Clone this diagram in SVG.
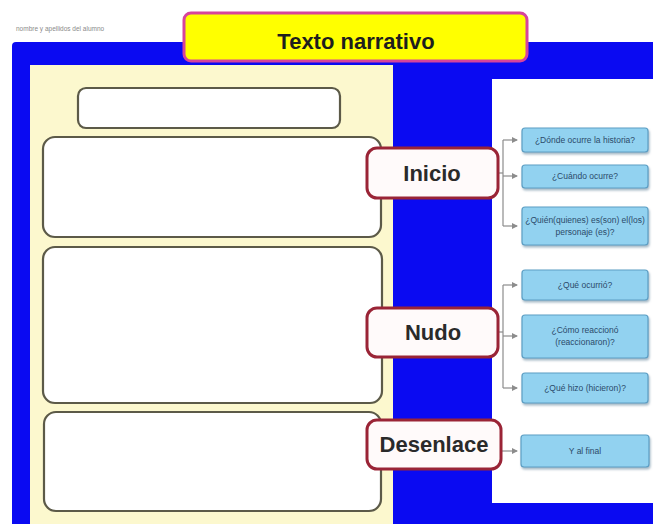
<svg xmlns="http://www.w3.org/2000/svg" width="653" height="524" viewBox="0 0 653 524">
<defs>
<style>
.lbox{fill:#ffffff;stroke:#5c5a48;stroke-width:2.2}
.sect rect{fill:#fffafa;stroke:#9a2436;stroke-width:3}
.sect text{font-family:"Liberation Sans",Arial,sans-serif;font-weight:bold;font-size:22px;fill:#2a2a2a;text-anchor:middle}
.q rect{fill:#92d2f0;stroke:#5c9ec4;stroke-width:1.2}
.q text{font-family:"Liberation Sans",Arial,sans-serif;font-size:8.5px;fill:#2b4a6a;text-anchor:middle}
.conn path{fill:none;stroke:#8c8c8c;stroke-width:1.2}
</style>
<marker id="ah" viewBox="0 0 6 6" refX="5" refY="3" markerWidth="5" markerHeight="5" orient="auto"><path d="M0,0 L6,3 L0,6 z" fill="#8c8c8c"/></marker>
<filter id="sh" x="-10%" y="-20%" width="120%" height="150%"><feDropShadow dx="1" dy="2" stdDeviation="1" flood-color="#6a8aa0" flood-opacity="0.6"/></filter>
</defs>
<rect x="0" y="0" width="653" height="524" fill="#ffffff"/>
<text x="16" y="31" font-family="Liberation Sans, Arial, sans-serif" font-size="6.5" fill="#8a8a8a">nombre y apellidos del alumno</text>
<rect id="blue-bg" x="12" y="42" width="660" height="500" rx="4" fill="#0a0af2"/>
<rect id="cream" x="30" y="65" width="363" height="470" fill="#fcf8ce"/>
<rect id="white-panel" x="492" y="79" width="170" height="424" fill="#ffffff"/>

<g id="title">
<rect x="184" y="13" width="343" height="48" rx="7" fill="#ffff00" stroke="#d6449c" stroke-width="3"/>
<text x="356" y="49" font-family="Liberation Sans, Arial, sans-serif" font-weight="bold" font-size="22" fill="#1e1e1e" text-anchor="middle">Texto narrativo</text>
</g>

<g id="box-title"><rect class="lbox" x="78" y="88" width="262" height="40" rx="8"/></g>
<g id="box-inicio"><rect class="lbox" x="43" y="137" width="338" height="100" rx="12"/></g>
<g id="box-nudo"><rect class="lbox" x="43" y="247" width="339" height="156" rx="12"/></g>
<g id="box-desenlace"><rect class="lbox" x="44" y="412" width="337" height="99" rx="12"/></g>

<g class="conn" id="connectors">
<path d="M498,173 H503"/>
<path d="M503,140 V226"/>
<path d="M503,140 H517" marker-end="url(#ah)"/>
<path d="M503,176 H517" marker-end="url(#ah)"/>
<path d="M503,226 H517" marker-end="url(#ah)"/>
<path d="M498,332 H503"/>
<path d="M503,285 V388"/>
<path d="M503,285 H517" marker-end="url(#ah)"/>
<path d="M503,336 H517" marker-end="url(#ah)"/>
<path d="M503,388 H517" marker-end="url(#ah)"/>
<path d="M501,451 H517" marker-end="url(#ah)"/>
</g>

<g class="sect" id="inicio"><rect x="367" y="148" width="131" height="50" rx="10"/><text x="432" y="181">Inicio</text></g>
<g class="sect" id="nudo"><rect x="367" y="308" width="131" height="49" rx="10"/><text x="433" y="340">Nudo</text></g>
<g class="sect" id="desenlace"><rect x="367" y="420" width="134" height="49" rx="10"/><text x="434" y="452">Desenlace</text></g>

<g class="q" id="q1"><rect x="522" y="128" width="126" height="24" rx="3" filter="url(#sh)"/><text x="585" y="143">¿Dónde ocurre la historia?</text></g>
<g class="q" id="q2"><rect x="522" y="165" width="126" height="23" rx="3" filter="url(#sh)"/><text x="585" y="179">¿Cuándo ocurre?</text></g>
<g class="q" id="q3"><rect x="522" y="207" width="126" height="38" rx="3" filter="url(#sh)"/><text x="585" y="223">¿Quién(quienes) es(son) el(los)</text><text x="585" y="235">personaje (es)?</text></g>
<g class="q" id="q4"><rect x="522" y="270" width="126" height="30" rx="3" filter="url(#sh)"/><text x="585" y="288">¿Qué ocurrió?</text></g>
<g class="q" id="q5"><rect x="522" y="315" width="126" height="43" rx="3" filter="url(#sh)"/><text x="585" y="333">¿Cómo reaccionó</text><text x="585" y="345">(reaccionaron)?</text></g>
<g class="q" id="q6"><rect x="522" y="373" width="126" height="30" rx="3" filter="url(#sh)"/><text x="585" y="391">¿Qué hizo (hicieron)?</text></g>
<g class="q" id="q7"><rect x="521" y="435" width="128" height="32" rx="3" filter="url(#sh)"/><text x="585" y="454">Y al final</text></g>
</svg>
